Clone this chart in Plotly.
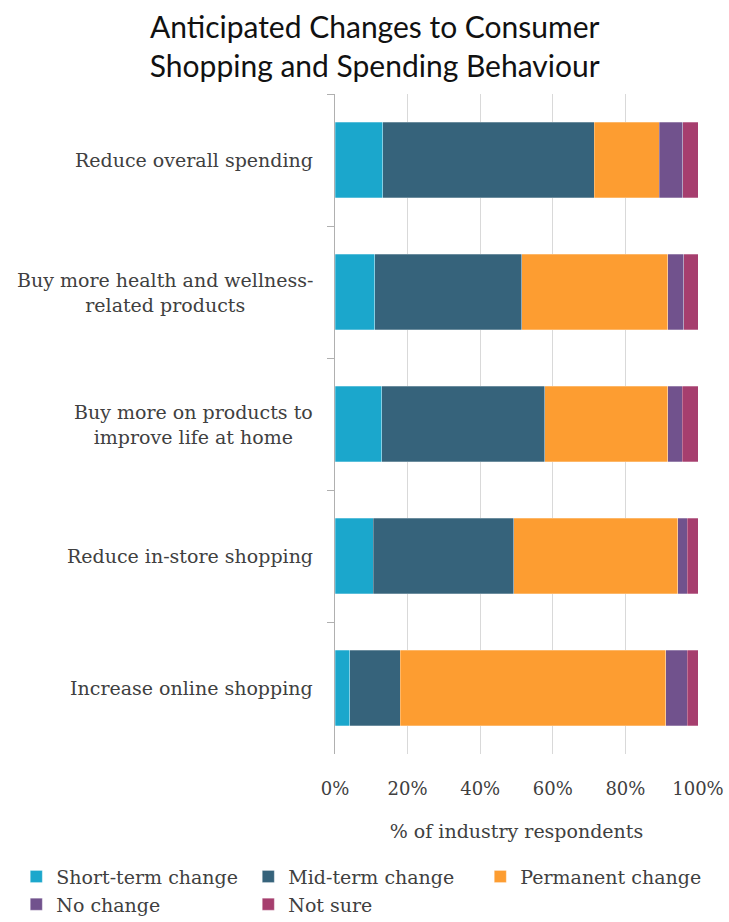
import plotly.graph_objects as go

# Survey statements (top to bottom) and response shares (% of industry respondents)
categories = [
    "Reduce overall spending",
    "Buy more health and wellness-<br>related products",
    "Buy more on products to<br>improve life at home",
    "Reduce in-store shopping",
    "Increase online shopping",
]
short_term = [13.1, 11.0, 12.9, 10.6, 4.0]
mid_term = [58.3, 40.4, 44.9, 38.7, 14.0]
permanent = [17.9, 40.2, 33.8, 45.1, 73.1]
no_change = [6.5, 4.5, 4.1, 2.6, 5.9]
not_sure = [4.2, 3.9, 4.3, 3.0, 3.0]

series_names = ["Short-term change", "Mid-term change", "Permanent change",
                "No change", "Not sure"]
series_values = [short_term, mid_term, permanent, no_change, not_sure]
series_colors = ["#1BA7CC", "#36637B", "#FD9D31", "#71528D", "#A63E6E"]

x_tick_values = [0, 20, 40, 60, 80, 100]
x_tick_labels = ["0%", "20%", "40%", "60%", "80%", "100%"]

SERIF = "DejaVu Serif"
TEXT = "#404040"
AXIS_GREY = "#B0B0B0"

fig = go.Figure()
for name, vals, col in zip(series_names, series_values, series_colors):
    fig.add_trace(go.Bar(
        y=categories, x=vals, name=name, orientation="h",
        marker=dict(color=col, line=dict(color="rgba(255,255,255,0.45)", width=0.6)),
    ))

# Category labels: centred multi-line text, right-aligned next to the axis
for cat in categories:
    fig.add_annotation(
        x=-0.055, xref="paper", y=cat, yref="y",
        text=cat, showarrow=False, xanchor="right", align="center",
        font=dict(family=SERIF, size=19, color=TEXT),
    )

fig.update_layout(
    width=729, height=922,
    margin=dict(l=335, r=31, t=94, b=168, autoexpand=False),
    paper_bgcolor="white", plot_bgcolor="white",
    barmode="stack", bargap=0.43,
    title=dict(
        text="Anticipated Changes to Consumer<br>Shopping and Spending Behaviour",
        x=0.514, xanchor="center", yref="container", y=0.959, yanchor="top",
        font=dict(family="Lato", size=30, color="#111111"),
    ),
    xaxis=dict(
        range=[0, 100], tickvals=x_tick_values, ticktext=x_tick_labels,
        showgrid=True, gridcolor="#D9D9D9", gridwidth=1.3,
        zeroline=False, showline=False, ticks="",
        tickfont=dict(family=SERIF, size=18, color=TEXT),
        ticklabelstandoff=22,
        title=dict(text="% of industry respondents", standoff=26,
                   font=dict(family=SERIF, size=19, color=TEXT)),
    ),
    yaxis=dict(
        autorange="reversed", showticklabels=False,
        showline=True, linecolor=AXIS_GREY, linewidth=1.3,
        ticks="outside", tickson="boundaries", ticklen=7,
        tickcolor=AXIS_GREY, tickwidth=1.3, showgrid=False,
    ),
    legend=dict(
        orientation="h", x=-0.878, xanchor="left",
        y=-0.157, yanchor="top",
        entrywidth=187, entrywidthmode="pixels", itemwidth=30,
        font=dict(family=SERIF, size=19, color=TEXT),
        traceorder="normal",
    ),
)

fig.write_html("out.html")
